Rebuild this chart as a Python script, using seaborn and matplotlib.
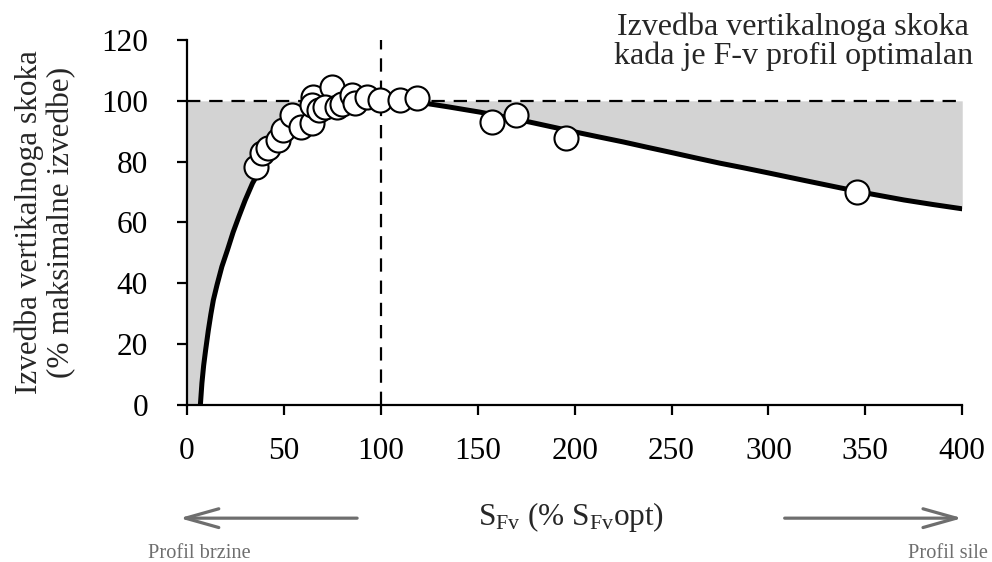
import numpy as np
import pandas as pd
import matplotlib.pyplot as plt
import seaborn as sns

# Model curve (SFv in % of optimum, jump height in % of max)
curve_x = [6.9, 7.7, 8.6, 9.6, 11, 12.3, 13.6, 15.5, 18, 20.9, 23.8, 26.8, 30, 33.8, 37,
           40, 45, 50, 55, 60, 65, 70, 75, 80, 85, 90, 95, 100, 105, 110, 115, 124,
           135, 151, 165, 177, 190, 200, 212, 225, 237, 250, 262, 275, 287, 300,
           318, 337, 352, 370, 385, 400]
curve_y = [0, 7.2, 13, 18, 24.5, 29.8, 34.5, 39.5, 45.5, 51, 56.8, 62, 67.3, 72.9, 76.5,
           79.5, 84.3, 88, 91.2, 93.6, 95.5, 97, 98.1, 98.9, 99.5, 99.8, 99.95, 100, 99.95,
           99.8, 99.6, 99.1, 98, 96.3, 94.6, 93, 91.2, 89.8, 88.2, 86.5, 84.8, 83, 81.3,
           79.5, 78, 76.3, 73.9, 71.4, 69.5, 67.4, 65.9, 64.5]

# Measured subjects
pts_x = [35.6, 38.5, 42, 47, 49.7, 54, 58.7, 64.4, 65, 64.4, 68, 74.7, 71.2, 77.3,
         80, 85, 86.7, 92.7, 99.6, 110, 118.5, 157.4, 169.8, 195.6, 345.8]
pts_y = [78.4, 82.8, 84.5, 87, 90.5, 95.4, 91.5, 92.7, 101.4, 98.7, 97, 104.7, 98.1, 98.1,
         99, 101.9, 99.2, 101.4, 100.4, 100.4, 100.9, 93, 95.4, 87.8, 70]

x_ticks = [0, 50, 100, 150, 200, 250, 300, 350, 400]
y_ticks = [0, 20, 40, 60, 80, 100, 120]

sns.set_style("ticks")
plt.rcParams['font.family'] = ['Liberation Serif', 'DejaVu Serif']
plt.rcParams['mathtext.fontset'] = 'custom'
plt.rcParams['mathtext.rm'] = 'Liberation Serif'
plt.rcParams['mathtext.it'] = 'Liberation Serif:italic'

fig = plt.figure(figsize=(9.92, 5.62), dpi=100)
ax = fig.add_axes([0.1885, 0.2794, 0.7815, 0.6494])

# grey area between the curve and 100 %
fill_x = np.array([0.0] + curve_x)
fill_y = np.array([0.0] + curve_y)
ax.fill_between(fill_x, fill_y, 100, where=fill_y <= 100.01, color='#d3d3d3',
                linewidth=0, zorder=1)

ax.axhline(100, color='black', lw=1.6, ls=(0, (6, 4)), zorder=2)
ax.axvline(100, color='black', lw=1.6, ls=(0, (6, 4)), zorder=2)

sns.lineplot(x=curve_x, y=curve_y, color='black', lw=3.6, ax=ax, zorder=3,
             sort=False)
sns.scatterplot(x=pts_x, y=pts_y, s=300, color='white', edgecolor='black',
                linewidth=1.5, ax=ax, zorder=4)

ax.set_xlim(0, 400)
ax.set_ylim(0, 120)
ax.set_xticks(x_ticks)
ax.set_yticks(y_ticks)
sns.despine(ax=ax)
for sp in ['left', 'bottom']:
    ax.spines[sp].set_linewidth(1.6)
    ax.spines[sp].set_color('black')
ax.tick_params(axis='both', direction='out', length=7, width=1.6, labelsize=22.5,
               colors='black')
ax.tick_params(axis='x', pad=16)
ax.tick_params(axis='y', pad=21)

ax.set_ylabel('Izvedba vertikalnoga skoka\n(% maksimalne izvedbe)', fontsize=22.5,
              linespacing=1.15, va='center')
ax.yaxis.set_label_coords(-0.1826, 0.5)
ax.set_xlabel(r'S$_{\mathrm{Fv}}$ (% S$_{\mathrm{Fv}}$opt)', fontsize=22.5, va='center')
ax.xaxis.set_label_coords(0.495, -0.307)

ax.text(0.782, 0.995, 'Izvedba vertikalnoga skoka\nkada je F-v profil optimalan',
        transform=ax.transAxes, ha='center', va='center', fontsize=23,
        linespacing=0.95)

gray = '#6e6e6e'
arrow = dict(arrowstyle='->,head_length=1.6,head_width=0.45', color=gray, lw=2.3,
             mutation_scale=15, shrinkA=0, shrinkB=0)
ax.annotate('', xy=(0.181, 0.078), xytext=(0.36, 0.078), xycoords='figure fraction',
            textcoords='figure fraction', arrowprops=arrow)
ax.annotate('', xy=(0.970, 0.078), xytext=(0.791, 0.078), xycoords='figure fraction',
            textcoords='figure fraction', arrowprops=arrow)
fig.text(0.149, 0.016, 'Profil brzine', fontsize=14.7, color=gray, ha='left', va='center')
fig.text(0.996, 0.016, 'Profil sile', fontsize=14.7, color=gray, ha='right', va='center')

fig.savefig('out.png', dpi=100)
